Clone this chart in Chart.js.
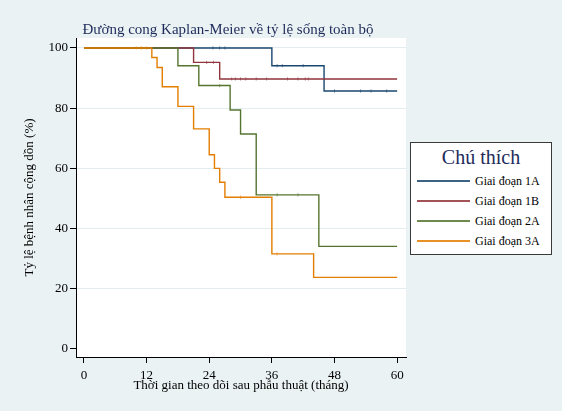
<!DOCTYPE html>
<html>
<head>
<meta charset="utf-8">
<script src="https://cdn.jsdelivr.net/npm/chart.js@4/dist/chart.umd.min.js"></script>
<style>
body{margin:0;background:#eaf2f3;font-family:"Liberation Serif","Times New Roman",serif}
#wrap{position:relative;width:562px;height:411px;background:#eaf2f3}
#title{position:absolute;left:228px;top:21px;transform:translateX(-50%);white-space:nowrap;font-size:15px;color:#1e2b5a}
#leg{position:absolute;left:410px;top:142px;width:140px;height:111px;background:#fff;border:1px solid #3a3a3a}
#leg h3{margin:0;position:absolute;left:0;right:0;top:3px;text-align:center;font-weight:normal;font-size:20px;color:#1e2b5a}
.row{position:absolute;left:6px;height:16px;display:flex;align-items:center;font-size:12px;color:#000}
.row i{display:inline-block;width:53px;height:2px;margin-right:5px;opacity:.85}
</style>
</head>
<body>
<div id="wrap">
  <canvas id="km" width="562" height="411"></canvas>
  <div id="title">Đường cong Kaplan-Meier về tỷ lệ sống toàn bộ</div>
  <div id="leg"><h3>Chú thích</h3></div>
</div>
<script>
// ===================== DATOS =====================
const nhom=['Giai đoạn 1A','Giai đoạn 1B','Giai đoạn 2A','Giai đoạn 3A'];
const mau=['#1a476f','#90353b','#55752f','#e37e00'];
const xTicks=[0,12,24,36,48,60];
const yTicks=[0,20,40,60,80,100];

// thời gian (tháng) và tỷ lệ sống (%)
const t1A=[0,36,46,60],           s1A=[100,94.1,85.7,85.7];
const t1B=[0,21,26,60],           s1B=[100,95.2,89.7,89.7];
const t2A=[0,18,22,28,30,33,45,60], s2A=[100,94.1,87.5,79.4,71.4,51.2,34.1,34.1];
const t3A=[0,13,14,15,18,21,24,25,26,27,36,44,60],
      s3A=[100,96.8,93.5,87.1,80.6,73.1,64.5,60.0,55.4,50.4,31.6,23.8,23.8];

// kiểm duyệt (censored)
const c1A=[24.7,26,27,37,38,42,48,53,55,58];
const c1B=[23.5,24.8,28.3,29,30,31,33,35,39,41,42.4,43];
const c2A=[26,37,41];
const c3A=[10,11,12,30,37];

const T=[t1A,t1B,t2A,t3A], S=[s1A,s1B,s2A,s3A], C=[c1A,c1B,c2A,c3A];

function songTai(t,s,x){let v=s[0];t.forEach((ti,i)=>{if(ti<=x) v=s[i];});return v;}

const datasets=[];
nhom.forEach((n,k)=>{
  datasets.push({label:n,data:T[k].map((x,i)=>({x,y:S[k][i]})),stepped:'before',
    borderColor:mau[k],borderWidth:1.4,pointRadius:0,fill:false,order:4-k});
  datasets.push({label:n+' c',data:C[k].map(x=>({x,y:songTai(T[k],S[k],x)})),showLine:false,
    pointStyle:'line',rotation:90,pointRadius:1.6,borderColor:mau[k]+'99',borderWidth:1,order:4-k});
});

// legend HTML
const leg=document.getElementById('leg');
nhom.forEach((n,k)=>{
  leg.innerHTML+='<div class="row" style="top:'+(30+k*20)+'px"><i style="background:'+mau[k]+'"></i>'+n+'</div>';
});

const nenTrang={id:'nenTrang',beforeDraw(c){const a=c.chartArea,ctx=c.ctx;ctx.save();ctx.fillStyle='#fff';ctx.fillRect(a.left,a.top,a.right-a.left,a.bottom-a.top);ctx.restore();}};
const font={family:'"Liberation Serif","Times New Roman",serif',size:13};

new Chart(document.getElementById('km'),{type:'line',data:{datasets},plugins:[nenTrang],
  options:{responsive:false,animation:false,
    layout:{padding:{top:38,right:156,left:0,bottom:0}},
    plugins:{legend:{display:false},tooltip:{enabled:false},title:{display:false}},
    scales:{
      x:{type:'linear',min:-1.53,max:61.7,
        afterBuildTicks:s=>{s.ticks=xTicks.map(v=>({value:v}));},
        afterFit:s=>{s.height=54;},
        ticks:{color:'#000',font,padding:5,maxRotation:0},
        grid:{drawOnChartArea:false,tickLength:6,tickColor:'#000'},
        border:{color:'#000',width:1},
        title:{display:true,text:'Thời gian theo dõi sau phẫu thuật (tháng)',color:'#000',font,padding:{top:0,bottom:18}}},
      y:{min:-2.66,max:103.3,
        afterBuildTicks:s=>{s.ticks=yTicks.map(v=>({value:v}));},
        afterFit:s=>{s.width=76;},
        ticks:{color:'#000',font,padding:2},
        grid:{color:c=>c.tick&&c.tick.value===0?'rgba(0,0,0,0)':'#e3ecef',tickLength:6,tickColor:'#000'},
        border:{color:'#000',width:1},
        title:{display:true,text:'Tỷ lệ bệnh nhân cộng dồn (%)',color:'#000',font,padding:{top:22,bottom:0}}}
    }}
});
</script>
</body>
</html>
